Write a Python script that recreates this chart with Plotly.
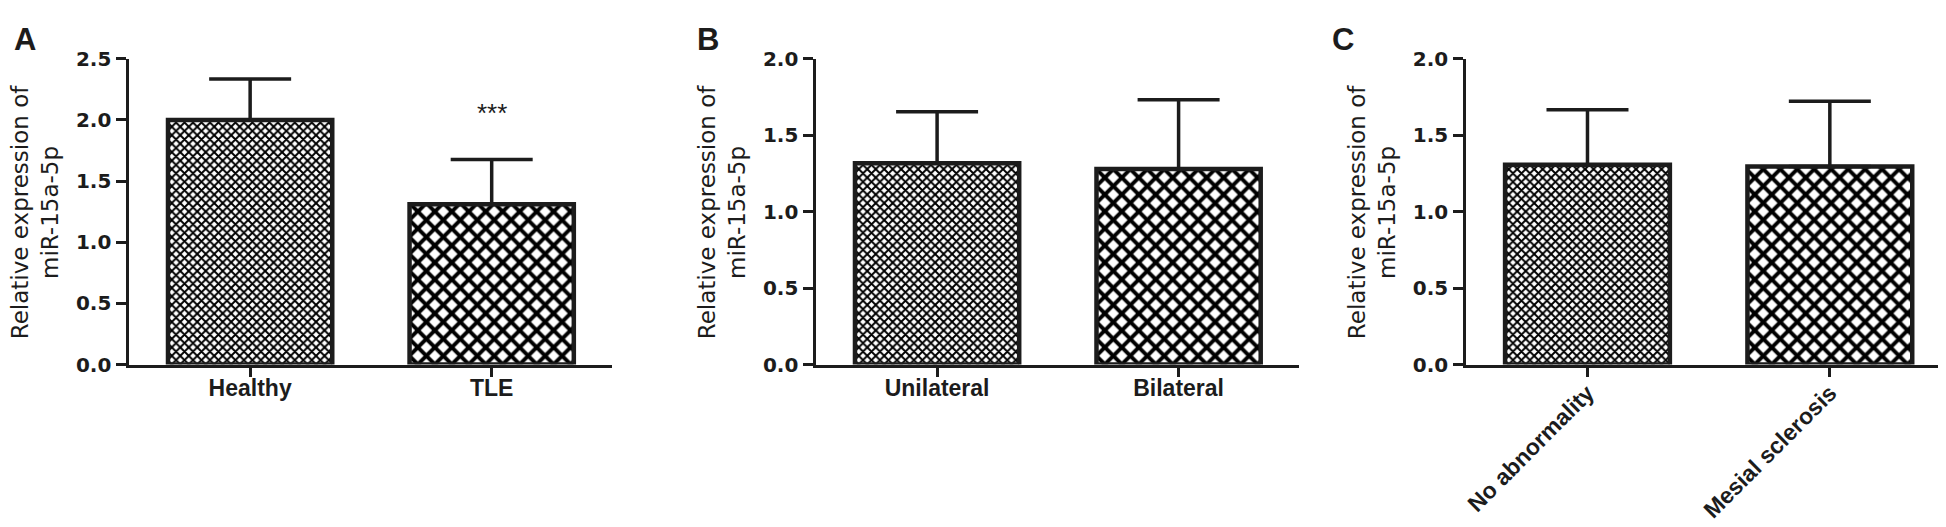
import plotly.graph_objects as go

# Daten
cats_a = ["Healthy", "TLE"]
mean_a = [2.00, 1.31]
sd_a = [0.335, 0.367]

cats_b = ["Unilateral", "Bilateral"]
mean_b = [1.317, 1.28]
sd_b = [0.337, 0.453]

cats_c = ["No abnormality", "Mesial sclerosis"]
mean_c = [1.307, 1.296]
sd_c = [0.36, 0.427]

yticks_a = [0.0, 0.5, 1.0, 1.5, 2.0, 2.5]
yticks_bc = [0.0, 0.5, 1.0, 1.5, 2.0]

ytitle = "Relative expression of<br>miR-15a-5p"
letters = ["A", "B", "C"]

W, H = 1946, 527
INK = "#1c1c1c"

# Panel-Positionen in Pixel (x0, x1 der Achse), y gleich fuer alle
panel_px = [(117.6, 601.7), (806.0, 1290.0), (1457.3, 1943.0)]
y_top_px, y_bot_px = 40.7, 361.0
letter_px = [0, 684, 1321]

fig = go.Figure()


def add_panel(i, cats, means, sds, ymax, yticks, angle, standoff):
    xa = "x" if i == 0 else f"x{i + 1}"
    ya = "y" if i == 0 else f"y{i + 1}"
    fig.add_trace(go.Bar(
        x=cats, y=means,
        xaxis=xa, yaxis=ya,
        width=0.68,
        marker=dict(
            color="white",
            line=dict(color=INK, width=4.5),
            pattern=dict(shape=["x", "x"], size=[6, 12], solidity=[0.55, 0.55],
                         fgcolor="black", bgcolor="white", fgopacity=1),
        ),
        error_y=dict(type="data", array=sds, arrayminus=[0] * len(sds), symmetric=False,
                     color=INK, thickness=3.5, width=41),
        showlegend=False,
    ))

    x0, x1 = panel_px[i]
    key = "" if i == 0 else str(i + 1)
    fig.layout["xaxis" + key] = dict(
        domain=[x0 / W, x1 / W], anchor=ya, type="category",
        range=[-0.5, 1.5], showline=True, linecolor=INK, linewidth=3,
        ticks="outside", ticklen=9, tickwidth=3, tickcolor=INK,
        tickangle=angle, showgrid=False, zeroline=False,
        ticklabelstandoff=standoff,
        tickfont=dict(family="Liberation Sans, Arial", size=23, color=INK, weight="bold"),
    )
    fig.layout["yaxis" + key] = dict(
        domain=[(H - y_bot_px) / H, (H - y_top_px) / H], anchor=xa,
        range=[0, ymax], tickvals=yticks, ticktext=[f"{v:.1f}" for v in yticks],
        showline=True, linecolor=INK, linewidth=3,
        ticks="outside", ticklen=10, tickwidth=3, tickcolor=INK,
        ticklabelstandoff=1, showgrid=False, zeroline=False,
        tickfont=dict(family="DejaVu Sans", size=20, color=INK, weight="bold"),
    )

    # y-Achsentitel
    fig.add_annotation(
        text=ytitle, xref="paper", yref="paper",
        x=(x0 - 95) / W, y=(H - (y_top_px + y_bot_px) / 2) / H,
        xanchor="center", yanchor="middle", textangle=-90, showarrow=False,
        font=dict(family="DejaVu Sans", size=23, color=INK),
    )

    # Panel-Buchstabe
    fig.add_annotation(
        text=f"<b>{letters[i]}</b>", xref="paper", yref="paper",
        x=letter_px[i] / W, y=1.0, xanchor="left", yanchor="top",
        showarrow=False, font=dict(family="Liberation Sans, Arial", size=31, color=INK),
    )


add_panel(0, cats_a, mean_a, sd_a, 2.5, yticks_a, 0, -8)
add_panel(1, cats_b, mean_b, sd_b, 2.0, yticks_bc, 0, -8)
add_panel(2, cats_c, mean_c, sd_c, 2.0, yticks_bc, -45, -6)

# Signifikanz ueber TLE
fig.add_annotation(
    text="***", xref="x", yref="y", x=cats_a[1], y=mean_a[1] + sd_a[1] + 0.38,
    xanchor="center", yanchor="middle", showarrow=False,
    font=dict(family="Liberation Sans, Arial", size=26, color=INK),
)

fig.update_layout(
    width=W, height=H,
    margin=dict(l=0, r=0, t=0, b=0),
    plot_bgcolor="white", paper_bgcolor="white",
    bargap=0.3,
)

fig.write_html("out.html")
